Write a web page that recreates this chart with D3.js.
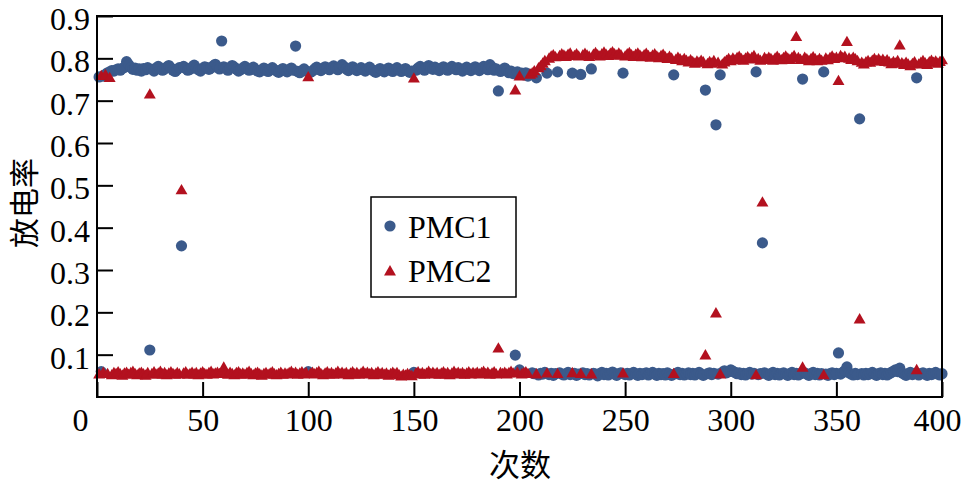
<!DOCTYPE html>
<html><head><meta charset="utf-8">
<script src="https://cdn.jsdelivr.net/npm/d3@7"></script>
<style>
body{margin:0;background:#fff}
</style>
</head><body>
<svg id="chart" width="965" height="485"></svg>
<script>
// ---------------- data ----------------
const seriesNames = ["PMC1", "PMC2"];
const xTickValues = [0, 50, 100, 150, 200, 250, 300, 350, 400];
const yTickValues = [0.1, 0.2, 0.3, 0.4, 0.5, 0.6, 0.7, 0.8, 0.9];
const xTitle = "次数";
const yTitle = "放电率";
// run index 1..400
const runs = d3.range(1, 401);
// discharge rate, in thousandths (x / 1000)
const pmc1Permille = [
756,60,758,762,766,768,771,770,773,775,772,776,779,792,785,778,774,777,772,775,
770,776,773,778,111,774,770,777,781,776,772,775,779,783,777,772,769,774,778,357,
781,776,772,774,779,784,777,773,770,776,780,778,774,777,782,786,779,775,841,780,
776,772,778,783,779,774,770,773,777,781,776,772,775,779,774,770,768,773,777,772,
769,774,778,773,770,767,772,776,771,768,773,777,772,829,769,766,771,775,770,60,
767,770,775,779,774,771,776,780,777,773,778,782,777,773,779,785,780,775,771,776,
780,775,771,774,778,773,770,775,779,774,770,767,772,776,771,768,773,777,772,769,
774,778,773,769,772,776,771,767,770,58,772,777,781,776,772,778,783,778,774,779,
775,771,776,780,775,772,777,781,776,773,778,774,770,775,779,774,771,776,780,775,
771,776,781,777,773,785,779,772,775,723,769,773,777,771,766,770,764,99,768,64,
765,761,766,758,762,57,55,754,52,56,54,58,765,53,56,51,55,768,57,54,
52,55,58,53,765,56,51,54,762,57,53,55,52,775,56,54,50,55,58,53,
56,52,55,59,54,51,55,57,765,53,56,52,55,58,54,51,56,53,55,57,
52,55,58,54,51,56,53,55,52,57,54,51,761,55,58,53,56,52,54,57,
53,56,52,55,58,54,51,725,55,57,53,56,643,54,761,58,62,57,60,64,
61,58,55,57,53,56,52,55,58,54,56,768,53,55,364,57,54,51,55,58,
53,56,52,55,57,54,51,55,58,53,56,52,55,751,57,54,51,55,58,53,
56,52,55,768,54,51,55,57,53,56,104,54,58,62,71,57,54,52,56,53,
657,55,52,56,53,55,58,54,51,55,57,53,56,52,55,58,61,64,60,68,
57,54,51,55,58,53,56,754,52,55,57,54,51,56,53,55,58,54,52,55
];
const pmc2Permille = [
52,757,56,759,53,752,50,55,53,57,52,49,54,56,51,55,58,53,50,54,
56,52,49,55,713,53,57,51,54,58,52,55,50,54,57,53,51,55,52,487,
54,57,51,53,56,52,55,50,54,57,53,51,55,58,52,54,56,53,55,68,
54,51,56,53,50,55,57,52,54,51,55,58,53,50,54,56,52,49,53,55,
51,54,57,52,50,53,56,51,54,52,55,58,53,56,51,54,57,52,55,754,
53,56,52,55,58,53,50,54,57,52,55,51,54,58,53,56,52,55,50,54,
57,52,55,51,54,58,53,56,52,55,50,54,57,52,55,51,54,49,53,56,
52,55,50,47,51,49,53,50,48,751,54,57,52,55,51,54,58,53,56,52,
55,51,54,57,52,55,50,54,58,53,56,52,55,51,54,57,52,55,53,56,
52,55,58,53,56,51,54,57,52,113,55,53,56,52,55,58,54,723,56,756,
52,55,57,53,760,763,768,52,775,780,786,792,54,798,803,806,801,53,804,808,
805,802,807,810,55,804,808,803,53,806,809,805,802,52,807,811,806,803,808,812,
807,804,809,813,808,805,810,806,54,803,808,811,806,802,807,810,805,801,806,809,
804,800,805,808,803,799,804,807,801,797,802,798,53,795,800,796,792,797,793,789,
794,790,786,791,788,793,789,97,785,790,786,792,196,788,52,784,789,793,797,792,
798,794,799,802,797,793,798,801,796,800,804,50,797,793,458,799,795,800,797,793,
798,802,797,794,799,803,798,795,800,804,849,799,795,68,800,796,792,797,801,796,
792,797,793,50,798,794,799,803,797,800,745,804,799,802,837,798,795,800,796,792,
182,788,784,789,792,788,793,797,792,796,791,795,790,794,789,785,790,786,792,829,
787,783,788,784,780,785,789,62,784,788,792,787,783,789,793,788,791,786,790,794
];
const colors = ["#3b5a8b", "#b3111f"];

// ---------------- chart ----------------
const SERIF = "'Liberation Serif', 'Times New Roman', serif";
const CJK = "'Noto Sans CJK SC', 'Noto Sans CJK JP', sans-serif";
const svg = d3.select("#chart");
const x = d3.scaleLinear().domain([0, 400]).range([97, 942]);
const y = d3.scaleLinear().domain([0, 0.9]).range([397, 16]);

const pts1 = runs.map((r, i) => ({x: r, y: pmc1Permille[i] / 1000}));
const pts2 = runs.map((r, i) => ({x: r, y: pmc2Permille[i] / 1000}));

// PMC1 circles
svg.append("g").selectAll("circle").data(pts1).join("circle")
  .attr("cx", d => x(d.x)).attr("cy", d => y(d.y)).attr("r", 5.6)
  .attr("fill", colors[0]);

// PMC2 triangles
const tri = d3.symbol(d3.symbolTriangle, 62);
svg.append("g").selectAll("path").data(pts2).join("path")
  .attr("d", tri).attr("transform", d => `translate(${x(d.x)},${y(d.y)})`)
  .attr("fill", colors[1]);

// axes (ticks pointing inward)
const gx = svg.append("g").attr("transform", "translate(0,397)")
  .call(d3.axisBottom(x).tickValues(xTickValues).tickSize(-15).tickPadding(11).tickFormat(d3.format("d")));
gx.attr("font-family", SERIF).attr("font-size", 32);
gx.select(".domain").remove();
gx.selectAll(".tick line").attr("stroke", "#000").attr("stroke-width", 2);
gx.selectAll(".tick text").attr("fill", "#000").style("font-family", SERIF).attr("font-size", 32)
  .attr("dx", d => d === 0 ? -17 : (d === 400 ? -5 : 0));

const gy = svg.append("g").attr("transform", "translate(97,0)")
  .call(d3.axisLeft(y).tickValues(yTickValues).tickSize(-16).tickPadding(7).tickFormat(d3.format(".1f")));
gy.attr("font-family", SERIF).attr("font-size", 32);
gy.select(".domain").remove();
gy.selectAll(".tick line").attr("stroke", "#000").attr("stroke-width", 2);
gy.selectAll(".tick text").attr("fill", "#000").style("font-family", SERIF).attr("font-size", 32).attr("dy", "0.42em");

// frame
svg.append("rect").attr("x", x(0)).attr("y", y(0.9))
  .attr("width", x(400) - x(0)).attr("height", y(0) - y(0.9))
  .attr("fill", "none").attr("stroke", "#000").attr("stroke-width", 2);

// titles
svg.append("text").attr("x", 520).attr("y", 476)
  .attr("text-anchor", "middle")
  .style("font-family", CJK).attr("font-size", 31)
  .text(xTitle);
svg.append("text").attr("transform", "translate(35,203) rotate(-90)")
  .attr("text-anchor", "middle")
  .style("font-family", CJK).attr("font-size", 30)
  .text(yTitle);

// legend
const lg = svg.append("g");
lg.append("rect").attr("x", 371).attr("y", 197).attr("width", 145).attr("height", 100)
  .attr("fill", "#fff").attr("stroke", "#000").attr("stroke-width", 1.5);
lg.append("circle").attr("cx", 390).attr("cy", 226).attr("r", 5.6).attr("fill", colors[0]);
lg.append("path").attr("d", tri).attr("transform", "translate(390,272)").attr("fill", colors[1]);
lg.append("text").attr("x", 408).attr("y", 238).style("font-family", SERIF).attr("font-size", 32).text(seriesNames[0]);
lg.append("text").attr("x", 408).attr("y", 282).style("font-family", SERIF).attr("font-size", 32).text(seriesNames[1]);
</script>
</body></html>
